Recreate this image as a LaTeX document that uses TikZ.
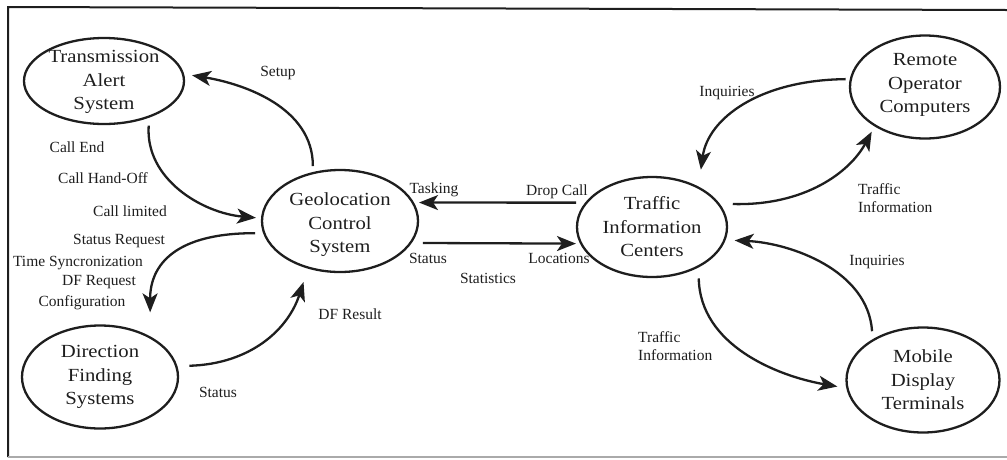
\documentclass[tikz,border=0pt]{standalone}
\usepackage{fontspec}
\setmainfont{Liberation Serif}
\newfontfamily\ovalfont[FakeStretch=1.12]{Liberation Serif}
\usetikzlibrary{arrows.meta,shapes.geometric}
\definecolor{ink}{RGB}{30,30,30}
\definecolor{rule}{RGB}{170,170,170}
\begin{document}
\begin{tikzpicture}[x=1pt,y=-1pt,
  oval/.style={draw=ink,ellipse,line width=2.3pt,inner sep=0pt},
  ovaltext/.style={align=center,text=ink,inner sep=0pt,font=\ovalfont\fontsize{18.5}{23.5}\selectfont},
  lab/.style={text=ink,inner sep=0pt,font=\fontsize{15.5}{18}\selectfont},
  flow/.style={draw=ink,line width=2.3pt,-{Stealth[length=19pt,width=15pt,inset=5pt]}}
]
\useasboundingbox (0,0) rectangle (1007,459);

% outer frame (open on the right)
\draw[ink,line width=2pt] (1007,10) -- (8,7) -- (8,457);
\draw[rule,line width=1.5pt] (8,457) -- (1007,457);

% processes
\node[oval,minimum width=160pt,minimum height=86pt]  (tas) at (104,81)  {};
\node[oval,minimum width=156pt,minimum height=102pt] (geo) at (340,221) {};
\node[oval,minimum width=156pt,minimum height=103pt] (dfs) at (100,377) {};
\node[oval,minimum width=150pt,minimum height=100pt] (tic) at (652,227) {};
\node[oval,minimum width=150pt,minimum height=103pt] (roc) at (925,87)  {};
\node[oval,minimum width=153pt,minimum height=105pt] (mdt) at (923,380) {};

\node[ovaltext] (tas-t) at ([yshift=-1pt]tas.center) {Transmission\\Alert\\System};
\node[ovaltext] (geo-t) at ([yshift=-4pt]geo.center) {Geolocation\\Control\\System};
\node[ovaltext] (dfs-t) at (dfs) {Direction\\Finding\\Systems};
\node[ovaltext] (tic-t) at (tic) {Traffic\\Information\\Centers};
\node[ovaltext] (roc-t) at ([yshift=2pt]roc.center) {Remote\\Operator\\Computers};
\node[ovaltext] (mdt-t) at (mdt) {Mobile\\Display\\Terminals};

% flows between geolocation, transmission alert and direction finding
\draw[flow,shorten <=6pt,shorten >=8pt] (geo.119) .. controls (313,108) and (245,84) .. (tas.5);
\draw[flow,shorten <=8pt,shorten >=5pt] (tas.-39) .. controls (145,179) and (202,213) .. (geo.178);
\draw[flow,shorten <=8pt,shorten >=24pt] (geo.189) .. controls (175,233) and (150,265) .. (dfs.39);
\draw[flow,shorten <=12pt,shorten >=14pt] (dfs.8) .. controls (250,364) and (288,330) .. (geo.236);

% flows between geolocation and traffic information
\draw[flow,shorten <=9pt,shorten >=5pt] (tic.160) -- (geo.14);
\draw[flow,shorten <=11pt,shorten >=4pt] (geo.-17) -- (tic.193);

% flows between traffic information and the terminals
\draw[flow,shorten <=4pt,shorten >=17pt] (roc.174) .. controls (760,80) and (708,118) .. (tic.41);
\draw[flow,shorten <=13pt,shorten >=6pt] (tic.19) .. controls (805,206) and (850,172) .. (roc.218);
\draw[flow,shorten <=8pt,shorten >=9pt] (mdt.141) .. controls (868,270) and (790,243) .. (tic.-10);
\draw[flow,shorten <=11pt,shorten >=9pt] (tic.-41) .. controls (700,345) and (777,376) .. (mdt.186);

% flow labels
\node[lab] (l-setup) at (278,73) {Setup};
\node[lab] (l-end)   at (77,147) {Call End};
\node[lab] (l-hand)  at (103,178) {Call Hand-Off};
\node[lab] (l-lim)   at (130,211) {Call limited};
\node[lab] (l-sreq)  at (119,241) {Status Request};
\node[lab] (l-time)  at (78,263) {Time Syncronization};
\node[lab] (l-dfreq) at (99,282) {DF Request};
\node[lab] (l-conf)  at (82,303) {Configuration};
\node[lab] (l-dfst)  at (218,392) {Status};
\node[lab] (l-dfres) at (350,314) {DF Result};
\node[lab] (l-task)  at (434,190) {Tasking};
\node[lab] (l-drop)  at (557,192) {Drop Call};
\node[lab] (l-stat)  at (428,258) {Status};
\node[lab] (l-loc)   at (559,258) {Locations};
\node[lab] (l-stats) at (488,278) {Statistics};
\node[lab] (l-inq1)  at (727,93) {Inquiries};
\node[lab,align=left,anchor=west] (l-ti1) at (858,198) {Traffic\\Information};
\node[lab] (l-inq2)  at (877,262) {Inquiries};
\node[lab,align=left,anchor=west] (l-ti2) at (638,346) {Traffic\\Information};
\end{tikzpicture}
\end{document}
